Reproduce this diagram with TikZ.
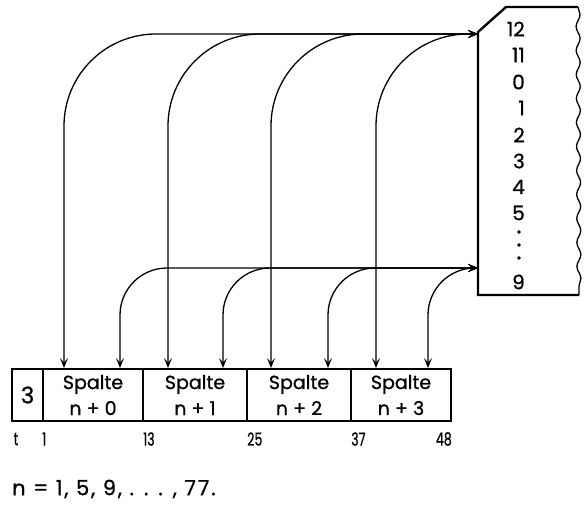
\documentclass[tikz,border=0pt]{standalone}
\usepackage{fontspec}
\setmainfont{Poppins}[FakeBold=0.8]
\usetikzlibrary{arrows.meta,decorations.pathmorphing,calc}
\tikzset{
  cell/.style={draw,line width=2pt,inner sep=0pt,minimum height=52pt,align=center,
    font=\fontsize{19}{26}\selectfont},
  conn/.style={line width=1.3pt,
    {Stealth[length=10pt,width=8pt,inset=4.5pt]}-{Stealth[length=10pt,width=8pt,inset=4.5pt]}},
  boxline/.style={line width=2.4pt},
  rownum/.style={anchor=east,inner sep=0pt,font=\fontsize{20}{20}\selectfont},
  rowdots/.style={inner sep=0pt,rotate=-90,font=\fontsize{24}{24}\selectfont},
  poslabel/.style={inner sep=0pt,font=\fontsize{18}{18}\selectfont},
}
\newcommand{\narrow}[1]{\scalebox{0.7}[1]{#1}}
\newcommand{\dotcell}{\makebox[13pt]{.}}
\begin{document}
\begin{tikzpicture}[x=1pt,y=-1pt]
\useasboundingbox (0,0) rectangle (588,504);
% card
\node[cell,minimum width=31pt,font=\fontsize{23}{23}\selectfont] (c3) at (27.5,395) {3};
\node[cell,minimum width=100pt] (s0) at (93,395) {Spalte\\n + 0};
\node[cell,minimum width=104pt] (s1) at (195,395) {Spalte\\n + 1};
\node[cell,minimum width=104pt] (s2) at (299,395) {Spalte\\n + 2};
\node[cell,minimum width=100pt] (s3) at (401,395) {Spalte\\n + 3};
% position labels
\node[poslabel] (lt) at (16,439) {\narrow{t}};
\node[poslabel,anchor=west] (l1) at (42,439) {\narrow{1}};
\node[poslabel,anchor=west] (l13) at (143,439) {\narrow{13}};
\node[poslabel,anchor=west] (l25) at (247,439) {\narrow{25}};
\node[poslabel,anchor=west] (l37) at (351,439) {\narrow{37}};
\node[poslabel,anchor=east] (l48) at (452,439) {\narrow{48}};
% formula
\node[anchor=west,inner sep=0pt,font=\fontsize{21}{21}\selectfont\addfontfeatures{LetterSpace=9}] (nf) at (12,489) {n = 1, 5, 9, . . . , 77.};
% right box
\coordinate (bA) at (478,295);
\coordinate (bB) at (478,32);
\coordinate (bC) at (506,7);
\coordinate (bD) at (578,7);
\coordinate (bE) at (579,295);
\draw[boxline,line join=miter] (bE) -- (bA) -- (bB) -- (bC) -- (bD);
\draw[line width=1.3pt,decorate,decoration={snake,segment length=24pt,amplitude=2pt}] (bD) -- (bE);
\coordinate (in12) at (478,34);
\coordinate (in9) at (478,268);
% row labels
\node[rownum] (r12) at (525,29) {12};
\node[rownum] (r11) at (525,55) {11};
\node[rownum] (r0) at (525,82) {0};
\node[rownum] (r1) at (525,108) {1};
\node[rownum] (r2) at (525,135) {2};
\node[rownum] (r3) at (525,161) {3};
\node[rownum] (r4) at (525,187) {4};
\node[rownum] (r5) at (525,213) {5};
\node[rowdots] (rd) at (519,245) {\dotcell\dotcell\dotcell};
\node[rownum] (r9) at (525,282) {9};
% connectors
\draw[conn,rounded corners=92pt] (in12) -| ([xshift=22pt]s0.north west);
\draw[conn,rounded corners=92pt] (in12) -| ([xshift=26pt]s1.north west);
\draw[conn,rounded corners=92pt] (in12) -| ([xshift=25pt]s2.north west);
\draw[conn,rounded corners=92pt] (in12) -| ([xshift=26pt]s3.north west);
\draw[conn,rounded corners=47pt] (in9) -| ([xshift=-24pt]s0.north east);
\draw[conn,rounded corners=47pt] (in9) -| ([xshift=-25pt]s1.north east);
\draw[conn,rounded corners=47pt] (in9) -| ([xshift=-24pt]s2.north east);
\draw[conn,rounded corners=47pt] (in9) -| ([xshift=-24pt]s3.north east);
\end{tikzpicture}
\end{document}
